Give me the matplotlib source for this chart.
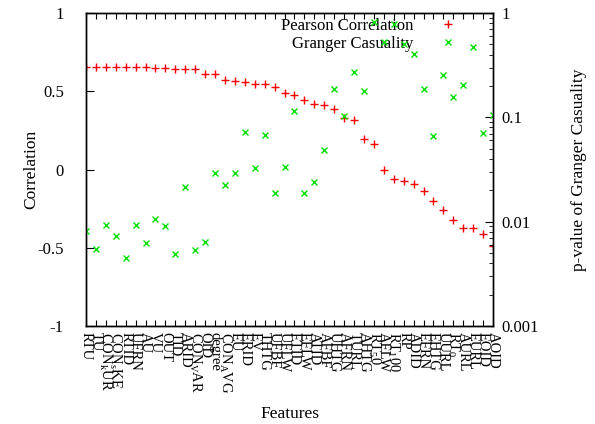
import matplotlib
matplotlib.use("Agg")
import matplotlib.pyplot as plt
import numpy as np
from matplotlib.ticker import LogLocator, NullFormatter, FixedLocator

plt.rcParams["font.family"] = ["Liberation Serif", "DejaVu Serif"]
plt.rcParams["mathtext.fontset"] = "custom"
plt.rcParams["mathtext.rm"] = "Liberation Serif"

# gnuplot enhanced text: "_" lowers only the next character
features = [
    "RTU", "TU", r"CON$_{\mathrm{k}}$UR", r"CON$_{\mathrm{s}}$KE", "RTID", "UFRN", "AU",
    "VU", "OUT", "TID", "ARID", r"CON$_{\mathrm{V}}$AR", "OID", "degree",
    r"CON$_{\mathrm{A}}$VG", "EU", "ERID", "EV", "THTG", "UFBF", "UFLW", "ETID",
    "EFLW", "ATID", "AFBF", "UHTG", "AFRN", "TURL", "AHTG", r"RT$_{5}$0", "AFLW",
    r"RT$_{1}$00", "RP", "ADID", "EFRN", "EHTG", "UURL", r"RT$_{0}$", "AURL", "EURL",
    "EOID", "AOID",
]

pearson = [
    0.657, 0.657, 0.655, 0.655, 0.655, 0.655, 0.653, 0.650, 0.647, 0.644,
    0.642, 0.640, 0.610, 0.608, 0.570, 0.568, 0.559, 0.544, 0.544, 0.525,
    0.491, 0.476, 0.446, 0.417, 0.412, 0.385, 0.329, 0.314, 0.193, 0.163,
    -0.003, -0.063, -0.071, -0.095, -0.139, -0.201, -0.261, -0.325, -0.372, -0.372,
    -0.410, -0.489,
]

granger_log = [
    -2.087, -2.266, -2.030, -2.138, -2.346, -2.030, -2.205, -1.975, -2.039, -2.308,
    -1.665, -2.272, -2.196, -1.534, -1.649, -1.534, -1.144, -1.483, -1.167, -1.729,
    -1.480, -0.937, -1.729, -1.617, -1.314, -0.732, -0.991, -0.566, -0.745, -0.086,
    -0.281, -0.102, -0.297, -0.393, -0.726, -1.182, -0.592, -0.802, -0.687, -0.323,
    -1.153, -0.978,
]
granger = [10 ** v for v in granger_log]

x = np.arange(len(features))

fig = plt.figure(figsize=(5.95, 4.24), dpi=100)
ax = fig.add_axes([0.1445, 0.2311, 0.6841, 0.7382])
ax2 = ax.twinx()

red_pts, = ax.plot(x, pearson, linestyle="none", marker="+", color="#ff0000",
                   markersize=6, markeredgewidth=1.0, label="Pearson Correlation")
green_pts, = ax2.plot(x, granger, linestyle="none", marker="x", color="#00e000",
                      markersize=5, markeredgewidth=1.0, label="Granger Casuality")

ax.set_xlim(0, len(features) - 1)
ax.set_ylim(-1, 1)
ax.set_yticks([-1, -0.5, 0, 0.5, 1])
ax.set_yticklabels(["-1", "-0.5", "0", "0.5", "1"])
ax.set_xticks(x)
ax.set_xticklabels(features, rotation=-90, fontsize=10.5, va="top", ha="center")
ax.tick_params(axis="x", direction="in", length=4, top=True, pad=4)
ax.tick_params(axis="y", direction="in", length=6, labelsize=12, right=False, pad=16)

ax2.set_yscale("log")
ax2.set_ylim(0.001, 1)
ax2.yaxis.set_major_locator(FixedLocator([0.001, 0.01, 0.1, 1]))
ax2.set_yticklabels(["0.001", "0.01", "0.1", "1"])
ax2.yaxis.set_minor_locator(LogLocator(base=10, subs=np.arange(2, 10)))
ax2.yaxis.set_minor_formatter(NullFormatter())
ax2.tick_params(axis="y", which="major", direction="in", length=6, labelsize=12, pad=6)
ax2.tick_params(axis="y", which="minor", direction="in", length=3)

for a in (ax, ax2):
    for s in a.spines.values():
        s.set_linewidth(1.0)

ax.set_xlabel("Features", fontsize=12.5)
ax.set_ylabel("Correlation", fontsize=12.5)
ax2.set_ylabel("p-value of Granger Casuality", fontsize=12.5, rotation=90)
ax.xaxis.set_label_coords(0.5, -0.255)
ax.yaxis.set_label_coords(-0.115, 0.5)
ax2.yaxis.set_label_coords(1.192, 0.5)

leg = ax.legend(handles=[red_pts, green_pts], loc="upper right", frameon=False,
                fontsize=12, markerfirst=False, handlelength=2.5,
                borderaxespad=0.1, labelspacing=0.12, bbox_to_anchor=(0.96, 1.012))
for t in leg.get_texts():
    t.set_ha("right")
leg.set_zorder(0)

fig.savefig("out.png", dpi=100)
